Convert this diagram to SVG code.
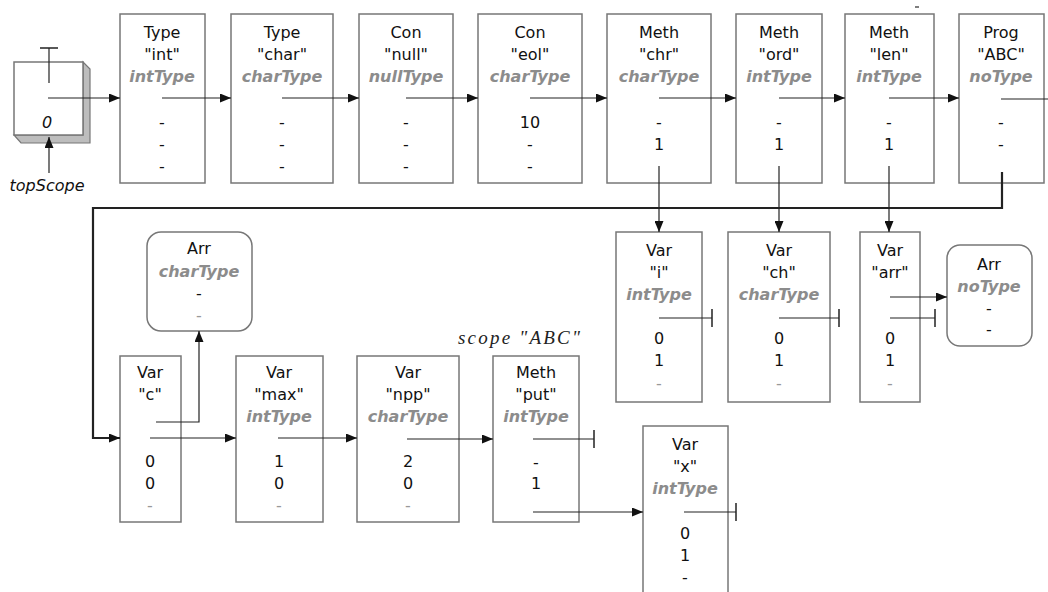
<svg xmlns="http://www.w3.org/2000/svg" width="1048" height="592" viewBox="0 0 1048 592">
<defs>
<style>
.box{fill:#fff;stroke:#777;stroke-width:1.5}
.h{font-family:"DejaVu Sans","Liberation Sans",sans-serif;font-size:16px;fill:#111;text-anchor:middle}
.t{font-family:"DejaVu Sans","Liberation Sans",sans-serif;font-size:16px;font-weight:bold;font-style:italic;fill:#8c8c8c;text-anchor:middle}
.g{fill:#999}
.i{font-style:italic}
.c{fill:none;stroke:#222;stroke-width:1.2}
.a{marker-end:url(#arrow)}
.b{marker-end:url(#bar)}
.thick{stroke-width:2.2}
.scope{font-family:"Liberation Serif",serif;font-size:19px;font-style:italic;fill:#222;text-anchor:middle}
</style>
<marker id="arrow" markerUnits="userSpaceOnUse" markerWidth="11" markerHeight="9" refX="11" refY="4.5" orient="auto" viewBox="0 0 11 9">
<path d="M0,0 L11,4.5 L0,9 Z" fill="#111"/>
</marker>
<marker id="bar" markerUnits="userSpaceOnUse" markerWidth="2" markerHeight="18" refX="1" refY="9" orient="auto" viewBox="0 0 2 18">
<path d="M1,0 V18" stroke="#222" stroke-width="1.5"/>
</marker>
</defs>
<rect width="1048" height="592" fill="#fff"/>

<g id="topScope">
<polygon points="83,62 90,69 90,143 21,143 14,135 83,135" fill="#bdbdbd" stroke="#777" stroke-width="1.2"/>
<rect x="14" y="62" width="69" height="73" class="box"/>
<text class="h i" x="47" y="128">0</text>
<text class="h i" x="47" y="191">topScope</text>
</g>

<g id="type-int">
<rect class="box" x="120" y="14" width="85" height="169"/>
<text class="h" x="162" y="38">Type</text>
<text class="h" x="162" y="60">"int"</text>
<text class="t" x="162" y="82">intType</text>
<text class="h" x="162" y="128">-</text>
<text class="h" x="162" y="150">-</text>
<text class="h" x="162" y="172">-</text>
</g>

<g id="type-char">
<rect class="box" x="231" y="14" width="102" height="169"/>
<text class="h" x="282" y="38">Type</text>
<text class="h" x="282" y="60">"char"</text>
<text class="t" x="282" y="82">charType</text>
<text class="h" x="282" y="128">-</text>
<text class="h" x="282" y="150">-</text>
<text class="h" x="282" y="172">-</text>
</g>

<g id="con-null">
<rect class="box" x="359" y="14" width="94" height="169"/>
<text class="h" x="406" y="38">Con</text>
<text class="h" x="406" y="60">"null"</text>
<text class="t" x="406" y="82">nullType</text>
<text class="h" x="406" y="128">-</text>
<text class="h" x="406" y="150">-</text>
<text class="h" x="406" y="172">-</text>
</g>

<g id="con-eol">
<rect class="box" x="478" y="14" width="104" height="169"/>
<text class="h" x="530" y="38">Con</text>
<text class="h" x="530" y="60">"eol"</text>
<text class="t" x="530" y="82">charType</text>
<text class="h" x="530" y="128">10</text>
<text class="h" x="530" y="150">-</text>
<text class="h" x="530" y="172">-</text>
</g>

<g id="meth-chr">
<rect class="box" x="607" y="14" width="104" height="169"/>
<text class="h" x="659" y="38">Meth</text>
<text class="h" x="659" y="60">"chr"</text>
<text class="t" x="659" y="82">charType</text>
<text class="h" x="659" y="128">-</text>
<text class="h" x="659" y="150">1</text>
</g>

<g id="meth-ord">
<rect class="box" x="736" y="14" width="86" height="169"/>
<text class="h" x="779" y="38">Meth</text>
<text class="h" x="779" y="60">"ord"</text>
<text class="t" x="779" y="82">intType</text>
<text class="h" x="779" y="128">-</text>
<text class="h" x="779" y="150">1</text>
</g>

<g id="meth-len">
<rect class="box" x="845" y="14" width="89" height="169"/>
<text class="h" x="889" y="38">Meth</text>
<text class="h" x="889" y="60">"len"</text>
<text class="t" x="889" y="82">intType</text>
<text class="h" x="889" y="128">-</text>
<text class="h" x="889" y="150">1</text>
</g>

<g id="prog-abc">
<rect class="box" x="959" y="14" width="85" height="169"/>
<text class="h" x="1001" y="38">Prog</text>
<text class="h" x="1001" y="60">"ABC"</text>
<text class="t" x="1001" y="82">noType</text>
<text class="h" x="1001" y="128">-</text>
<text class="h" x="1001" y="150">-</text>
</g>

<g id="var-i">
<rect class="box" x="616" y="232" width="86" height="170"/>
<text class="h" x="659" y="256">Var</text>
<text class="h" x="659" y="278">"i"</text>
<text class="t" x="659" y="300">intType</text>
<text class="h" x="659" y="344">0</text>
<text class="h" x="659" y="366">1</text>
<text class="h g" x="659" y="389">-</text>
</g>

<g id="var-ch">
<rect class="box" x="728" y="232" width="102" height="170"/>
<text class="h" x="779" y="256">Var</text>
<text class="h" x="779" y="278">"ch"</text>
<text class="t" x="779" y="300">charType</text>
<text class="h" x="779" y="344">0</text>
<text class="h" x="779" y="366">1</text>
<text class="h g" x="779" y="389">-</text>
</g>

<g id="var-arr">
<rect class="box" x="860" y="232" width="60" height="170"/>
<text class="h" x="890" y="256">Var</text>
<text class="h" x="890" y="278">"arr"</text>
<text class="h" x="890" y="344">0</text>
<text class="h" x="890" y="366">1</text>
<text class="h g" x="890" y="389">-</text>
</g>

<g id="arr-notype">
<rect class="box" x="947" y="245" width="85" height="101" rx="13"/>
<text class="h" x="989" y="270">Arr</text>
<text class="t" x="989" y="292">noType</text>
<text class="h" x="989" y="314">-</text>
<text class="h" x="989" y="335">-</text>
</g>

<g id="arr-chartype">
<rect class="box" x="147" y="232" width="105" height="99" rx="14"/>
<text class="h" x="199" y="254">Arr</text>
<text class="t" x="199" y="277">charType</text>
<text class="h" x="199" y="299">-</text>
<text class="h g" x="199" y="321">-</text>
</g>

<g id="var-c">
<rect class="box" x="120" y="356" width="61" height="166"/>
<text class="h" x="150" y="378">Var</text>
<text class="h" x="150" y="400">"c"</text>
<text class="h" x="150" y="467">0</text>
<text class="h" x="150" y="489">0</text>
<text class="h g" x="150" y="511">-</text>
</g>

<g id="var-max">
<rect class="box" x="236" y="356" width="87" height="166"/>
<text class="h" x="279" y="378">Var</text>
<text class="h" x="279" y="400">"max"</text>
<text class="t" x="279" y="422">intType</text>
<text class="h" x="279" y="467">1</text>
<text class="h" x="279" y="489">0</text>
<text class="h g" x="279" y="511">-</text>
</g>

<g id="var-npp">
<rect class="box" x="357" y="356" width="102" height="166"/>
<text class="h" x="408" y="378">Var</text>
<text class="h" x="408" y="400">"npp"</text>
<text class="t" x="408" y="422">charType</text>
<text class="h" x="408" y="467">2</text>
<text class="h" x="408" y="489">0</text>
<text class="h g" x="408" y="511">-</text>
</g>

<g id="meth-put">
<text class="scope" x="519" y="344" textLength="122" lengthAdjust="spacing">scope "ABC"</text>
<rect class="box" x="493" y="356" width="86" height="166"/>
<text class="h" x="536" y="378">Meth</text>
<text class="h" x="536" y="400">"put"</text>
<text class="t" x="536" y="422">intType</text>
<text class="h" x="536" y="468">-</text>
<text class="h" x="536" y="489">1</text>
</g>

<g id="var-x">
<rect class="box" x="643" y="426" width="85" height="190"/>
<text class="h" x="685" y="450">Var</text>
<text class="h" x="685" y="472">"x"</text>
<text class="t" x="685" y="494">intType</text>
<text class="h" x="685" y="539">0</text>
<text class="h" x="685" y="561">1</text>
<text class="h" x="685" y="583">-</text>
</g>

<g id="connectors">
<line class="c b" x1="49" y1="83" x2="49" y2="48"/>
<line class="c a" x1="48" y1="98" x2="120" y2="98"/>
<line class="c a" x1="49" y1="173" x2="49" y2="137"/>
<line class="c a" x1="162" y1="98" x2="231" y2="98"/>
<line class="c a" x1="282" y1="98" x2="359" y2="98"/>
<line class="c a" x1="406" y1="98" x2="478" y2="98"/>
<line class="c a" x1="530" y1="98" x2="607" y2="98"/>
<line class="c a" x1="659" y1="98" x2="736" y2="98"/>
<line class="c a" x1="779" y1="98" x2="845" y2="98"/>
<line class="c a" x1="889" y1="98" x2="959" y2="98"/>
<line class="c" x1="1001" y1="99" x2="1048" y2="99"/>
<line class="c a" x1="659" y1="166" x2="659" y2="232"/>
<line class="c a" x1="779" y1="166" x2="779" y2="232"/>
<line class="c a" x1="889" y1="166" x2="889" y2="232"/>
<polyline class="c a thick" points="1002,172 1002,208 93,208 93,438 120,438"/>
<line class="c b" x1="659" y1="318" x2="712" y2="318"/>
<line class="c b" x1="779" y1="318" x2="839" y2="318"/>
<line class="c a" x1="890" y1="297" x2="947" y2="297"/>
<line class="c b" x1="890" y1="318" x2="935" y2="318"/>
<polyline class="c a" points="156,422 199,422 199,331"/>
<line class="c a" x1="150" y1="438" x2="236" y2="438"/>
<line class="c a" x1="278" y1="438" x2="357" y2="438"/>
<line class="c a" x1="407" y1="439" x2="493" y2="439"/>
<line class="c b" x1="533" y1="439" x2="594" y2="439"/>
<line class="c a" x1="533" y1="512" x2="643" y2="512"/>
<line class="c b" x1="684" y1="512" x2="736" y2="512"/>
<line x1="915" y1="7" x2="919" y2="7" stroke="#555" stroke-width="1.5"/>
</g>
</svg>
